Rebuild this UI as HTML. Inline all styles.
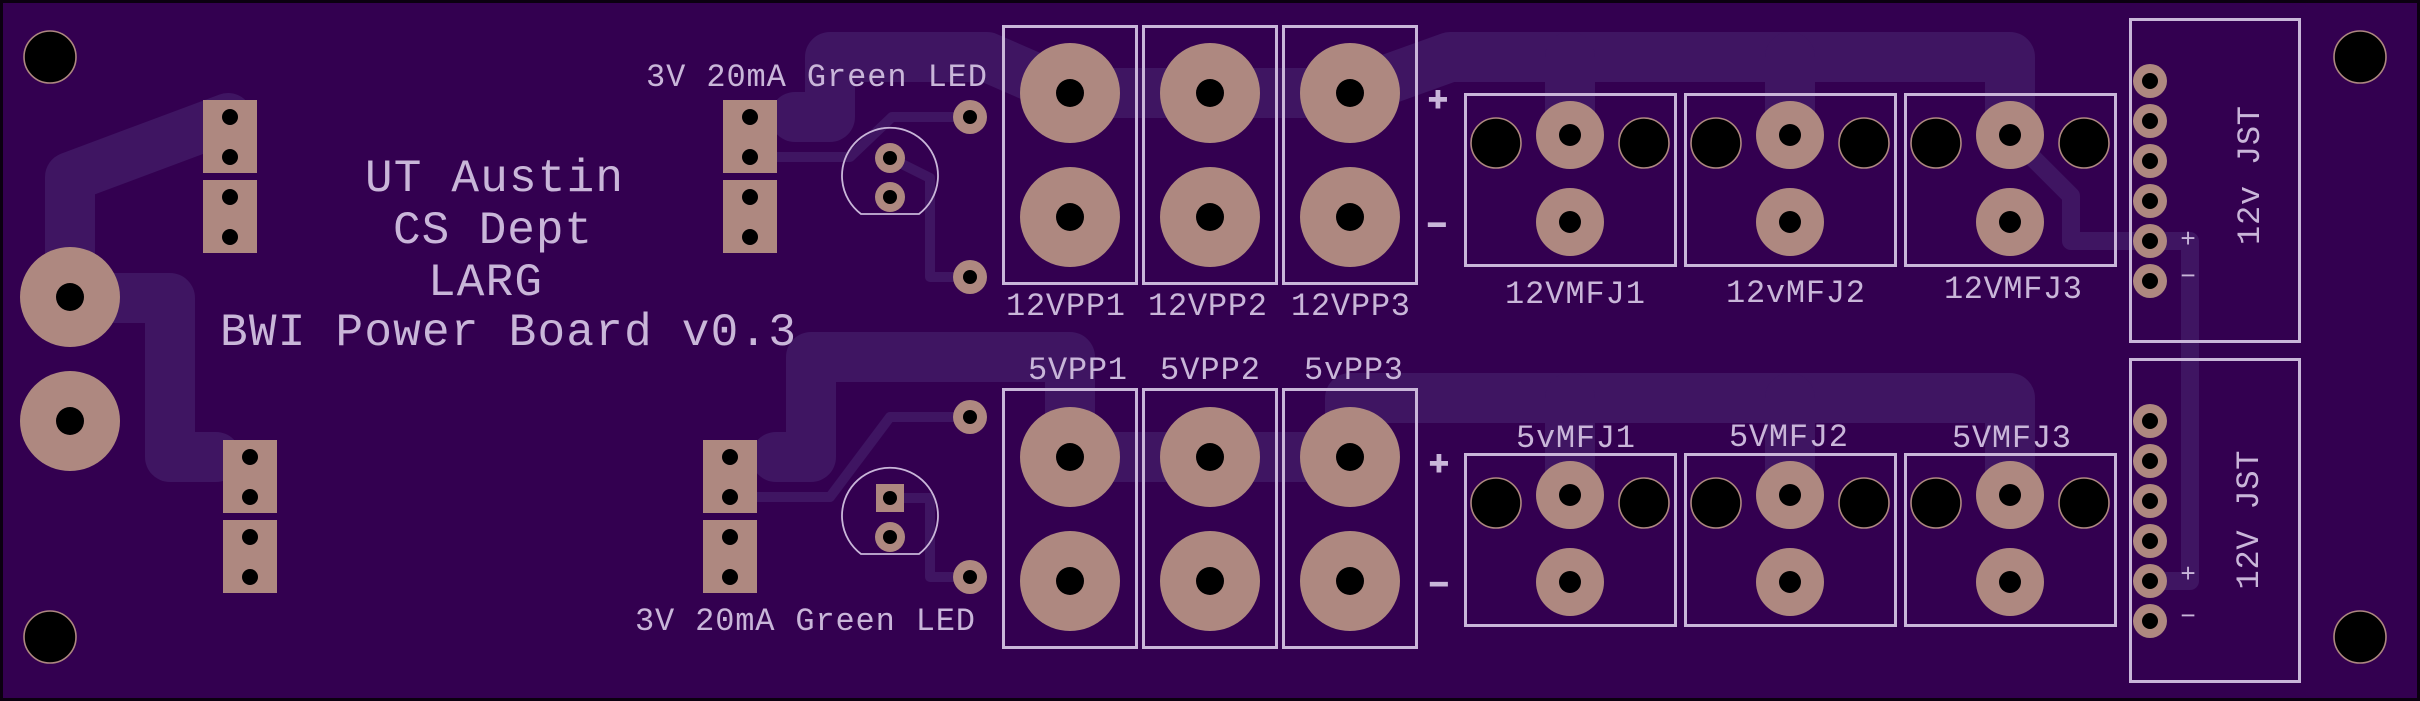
<!DOCTYPE html>
<html>
<head>
<meta charset="utf-8">
<style>
  html, body { margin: 0; padding: 0; background: #330050; overflow: hidden; }
  svg { display: block; }
  text { font-family: "Liberation Mono", "DejaVu Sans Mono", monospace; fill: #c9b6d9; }
</style>
</head>
<body>
<svg width="2420" height="701" viewBox="0 0 2420 701" xmlns="http://www.w3.org/2000/svg">
  <!-- board -->
  <rect x="0" y="0" width="2420" height="701" fill="#330050"/>

  <!-- traces -->
  <g fill="none" stroke="#3f1562" stroke-linejoin="round" stroke-linecap="round">
    <g stroke-width="50">
      <polyline points="228,118 70,177 70,297"/>
      <polyline points="70,298 170,298 170,457 216,457"/>
      <polyline points="795,117 830,117 830,57 987,57 1070,93 1350,93 1450,57 2010,57 2010,135"/>
      <polyline points="1570,57 1570,135"/>
      <polyline points="1790,57 1790,135"/>
      <polyline points="776,457 811,457 811,357 1070,357 1070,457 1350,457 1350,398 2010,398 2010,495"/>
      <polyline points="1570,398 1570,495"/>
      <polyline points="1790,398 1790,495"/>
    </g>
    <g stroke-width="10">
      <polyline points="757,157 850,157 892,117 970,117"/>
      <polyline points="890,158 930,178 930,277 970,277"/>
      <polyline points="757,497 830,497 890,417 970,417"/>
      <polyline points="890,498 930,498 930,577 970,577"/>
    </g>
    <polyline stroke-width="18" points="2010,135 2071,196 2071,241 2190,241 2190,581 2150,581"/>
  </g>

  <!-- silkscreen outlines -->
  <g fill="none" stroke="#c9b6d9" stroke-width="3">
    <!-- 12VPP boxes -->
    <rect x="1003.5" y="26.5" width="133" height="257"/>
    <rect x="1143.5" y="26.5" width="133" height="257"/>
    <rect x="1283.5" y="26.5" width="133" height="257"/>
    <!-- 5VPP boxes -->
    <rect x="1003.5" y="389.5" width="133" height="258"/>
    <rect x="1143.5" y="389.5" width="133" height="258"/>
    <rect x="1283.5" y="389.5" width="133" height="258"/>
    <!-- MFJ boxes -->
    <rect x="1465.5" y="94.5" width="210" height="171"/>
    <rect x="1685.5" y="94.5" width="210" height="171"/>
    <rect x="1905.5" y="94.5" width="210" height="171"/>
    <rect x="1465.5" y="454.5" width="210" height="171"/>
    <rect x="1685.5" y="454.5" width="210" height="171"/>
    <rect x="1905.5" y="454.5" width="210" height="171"/>
    <!-- JST boxes -->
    <rect x="2130.5" y="19.5" width="169" height="322"/>
    <rect x="2130.5" y="359.5" width="169" height="322"/>
  </g>
  <g fill="none" stroke="#c9b6d9" stroke-width="1.8">
    <path d="M 861,214 A 48 48 0 1 1 919,214 Z"/>
    <path d="M 861,554 A 48 48 0 1 1 919,554 Z"/>
  </g>

  <!-- silkscreen text -->
  <g font-size="46">
    <text x="365" y="191" textLength="258" lengthAdjust="spacing">UT Austin</text>
    <text x="393" y="243" textLength="199" lengthAdjust="spacing">CS Dept</text>
    <text x="428" y="295" textLength="114" lengthAdjust="spacing">LARG</text>
    <text x="220" y="345" textLength="576" lengthAdjust="spacing">BWI Power Board v0.3</text>
  </g>
  <g font-size="32">
    <text x="646" y="86" textLength="341" lengthAdjust="spacing">3V 20mA Green LED</text>
    <text x="635" y="630" textLength="340" lengthAdjust="spacing">3V 20mA Green LED</text>

    <text x="1006" y="315" textLength="119" lengthAdjust="spacing">12VPP1</text>
    <text x="1148" y="315" textLength="119" lengthAdjust="spacing">12VPP2</text>
    <text x="1291" y="315" textLength="119" lengthAdjust="spacing">12VPP3</text>

    <text x="1028" y="379" textLength="99" lengthAdjust="spacing">5VPP1</text>
    <text x="1160" y="379" textLength="100" lengthAdjust="spacing">5VPP2</text>
    <text x="1304" y="379" textLength="99" lengthAdjust="spacing">5vPP3</text>

    <text x="1505" y="303" textLength="140" lengthAdjust="spacing">12VMFJ1</text>
    <text x="1726" y="302" textLength="139" lengthAdjust="spacing">12vMFJ2</text>
    <text x="1944" y="298" textLength="138" lengthAdjust="spacing">12VMFJ3</text>

    <text x="1516" y="447" textLength="119" lengthAdjust="spacing">5vMFJ1</text>
    <text x="1729" y="446" textLength="119" lengthAdjust="spacing">5VMFJ2</text>
    <text x="1952" y="447" textLength="119" lengthAdjust="spacing">5VMFJ3</text>

    <text transform="translate(2259,175.5) rotate(-90)" text-anchor="middle" textLength="139" lengthAdjust="spacing">12v JST</text>
    <text transform="translate(2258,520) rotate(-90)" text-anchor="middle" textLength="139" lengthAdjust="spacing">12V JST</text>
  </g>
  <g font-size="34" font-weight="bold" text-anchor="middle" stroke="#c9b6d9" stroke-width="1">
    <text x="1438" y="110.5">+</text>
    <text x="1437" y="236">&#8722;</text>
    <text x="1439" y="474.5">+</text>
    <text x="1439" y="595.5">&#8722;</text>
  </g>
  <g font-size="26" text-anchor="middle">
    <text x="2188" y="247">+</text>
    <text x="2188" y="284">&#8722;</text>
    <text x="2188" y="582">+</text>
    <text x="2188" y="624">&#8722;</text>
  </g>

  <!-- copper pads -->
  <g fill="#ae8880">
    <!-- header blocks -->
    <rect x="203" y="100" width="54" height="73"/>
    <rect x="203" y="180" width="54" height="73"/>
    <rect x="223" y="440" width="54" height="73"/>
    <rect x="223" y="520" width="54" height="73"/>
    <rect x="723" y="100" width="54" height="73"/>
    <rect x="723" y="180" width="54" height="73"/>
    <rect x="703" y="440" width="54" height="73"/>
    <rect x="703" y="520" width="54" height="73"/>
    <!-- DC jack -->
    <circle cx="70" cy="297" r="50"/>
    <circle cx="70" cy="421" r="50"/>
    <!-- power posts -->
    <circle cx="1070" cy="93" r="50"/><circle cx="1070" cy="217" r="50"/>
    <circle cx="1210" cy="93" r="50"/><circle cx="1210" cy="217" r="50"/>
    <circle cx="1350" cy="93" r="50"/><circle cx="1350" cy="217" r="50"/>
    <circle cx="1070" cy="457" r="50"/><circle cx="1070" cy="581" r="50"/>
    <circle cx="1210" cy="457" r="50"/><circle cx="1210" cy="581" r="50"/>
    <circle cx="1350" cy="457" r="50"/><circle cx="1350" cy="581" r="50"/>
    <!-- resistor pads -->
    <circle cx="970" cy="117" r="17"/><circle cx="970" cy="277" r="17"/>
    <circle cx="970" cy="417" r="17"/><circle cx="970" cy="577" r="17"/>
    <!-- LED pads -->
    <circle cx="890" cy="158" r="15"/><circle cx="890" cy="197" r="15"/>
    <rect x="876" y="484" width="28" height="28"/><circle cx="890" cy="537" r="15"/>
    <!-- MFJ pads -->
    <circle cx="1570" cy="135" r="34"/><circle cx="1570" cy="222" r="34"/>
    <circle cx="1790" cy="135" r="34"/><circle cx="1790" cy="222" r="34"/>
    <circle cx="2010" cy="135" r="34"/><circle cx="2010" cy="222" r="34"/>
    <circle cx="1570" cy="495" r="34"/><circle cx="1570" cy="582" r="34"/>
    <circle cx="1790" cy="495" r="34"/><circle cx="1790" cy="582" r="34"/>
    <circle cx="2010" cy="495" r="34"/><circle cx="2010" cy="582" r="34"/>
    <!-- JST pads -->
    <circle cx="2150" cy="81" r="17"/><circle cx="2150" cy="121" r="17"/>
    <circle cx="2150" cy="161" r="17"/><circle cx="2150" cy="201" r="17"/>
    <circle cx="2150" cy="241" r="17"/><circle cx="2150" cy="281" r="17"/>
    <circle cx="2150" cy="421" r="17"/><circle cx="2150" cy="461" r="17"/>
    <circle cx="2150" cy="501" r="17"/><circle cx="2150" cy="541" r="17"/>
    <circle cx="2150" cy="581" r="17"/><circle cx="2150" cy="621" r="17"/>
  </g>

  <!-- drill holes -->
  <g fill="#000">
    <!-- headers -->
    <circle cx="230" cy="117" r="8"/><circle cx="230" cy="157" r="8"/>
    <circle cx="230" cy="197" r="8"/><circle cx="230" cy="237" r="8"/>
    <circle cx="250" cy="457" r="8"/><circle cx="250" cy="497" r="8"/>
    <circle cx="250" cy="537" r="8"/><circle cx="250" cy="577" r="8"/>
    <circle cx="750" cy="117" r="8"/><circle cx="750" cy="157" r="8"/>
    <circle cx="750" cy="197" r="8"/><circle cx="750" cy="237" r="8"/>
    <circle cx="730" cy="457" r="8"/><circle cx="730" cy="497" r="8"/>
    <circle cx="730" cy="537" r="8"/><circle cx="730" cy="577" r="8"/>
    <!-- DC jack -->
    <circle cx="70" cy="297" r="14"/><circle cx="70" cy="421" r="14"/>
    <!-- posts -->
    <circle cx="1070" cy="93" r="14"/><circle cx="1070" cy="217" r="14"/>
    <circle cx="1210" cy="93" r="14"/><circle cx="1210" cy="217" r="14"/>
    <circle cx="1350" cy="93" r="14"/><circle cx="1350" cy="217" r="14"/>
    <circle cx="1070" cy="457" r="14"/><circle cx="1070" cy="581" r="14"/>
    <circle cx="1210" cy="457" r="14"/><circle cx="1210" cy="581" r="14"/>
    <circle cx="1350" cy="457" r="14"/><circle cx="1350" cy="581" r="14"/>
    <!-- resistor -->
    <circle cx="970" cy="117" r="7"/><circle cx="970" cy="277" r="7"/>
    <circle cx="970" cy="417" r="7"/><circle cx="970" cy="577" r="7"/>
    <!-- LED -->
    <circle cx="890" cy="158" r="7"/><circle cx="890" cy="197" r="7"/>
    <circle cx="890" cy="498" r="7"/><circle cx="890" cy="537" r="7"/>
    <!-- MFJ pad holes -->
    <circle cx="1570" cy="135" r="11"/><circle cx="1570" cy="222" r="11"/>
    <circle cx="1790" cy="135" r="11"/><circle cx="1790" cy="222" r="11"/>
    <circle cx="2010" cy="135" r="11"/><circle cx="2010" cy="222" r="11"/>
    <circle cx="1570" cy="495" r="11"/><circle cx="1570" cy="582" r="11"/>
    <circle cx="1790" cy="495" r="11"/><circle cx="1790" cy="582" r="11"/>
    <circle cx="2010" cy="495" r="11"/><circle cx="2010" cy="582" r="11"/>
    <!-- JST -->
    <circle cx="2150" cy="81" r="8"/><circle cx="2150" cy="121" r="8"/>
    <circle cx="2150" cy="161" r="8"/><circle cx="2150" cy="201" r="8"/>
    <circle cx="2150" cy="241" r="8"/><circle cx="2150" cy="281" r="8"/>
    <circle cx="2150" cy="421" r="8"/><circle cx="2150" cy="461" r="8"/>
    <circle cx="2150" cy="501" r="8"/><circle cx="2150" cy="541" r="8"/>
    <circle cx="2150" cy="581" r="8"/><circle cx="2150" cy="621" r="8"/>
  </g>
  <!-- non-plated holes with thin ring -->
  <g fill="#000" stroke="#ae8880" stroke-width="1.6">
    <circle cx="50" cy="57" r="26"/>
    <circle cx="50" cy="637" r="26"/>
    <circle cx="2360" cy="57" r="26"/>
    <circle cx="2360" cy="637" r="26"/>
    <circle cx="1496" cy="143" r="25"/><circle cx="1644" cy="143" r="25"/>
    <circle cx="1716" cy="143" r="25"/><circle cx="1864" cy="143" r="25"/>
    <circle cx="1936" cy="143" r="25"/><circle cx="2084" cy="143" r="25"/>
    <circle cx="1496" cy="503" r="25"/><circle cx="1644" cy="503" r="25"/>
    <circle cx="1716" cy="503" r="25"/><circle cx="1864" cy="503" r="25"/>
    <circle cx="1936" cy="503" r="25"/><circle cx="2084" cy="503" r="25"/>
  </g>

  <!-- board edge -->
  <rect x="1.5" y="1.5" width="2417" height="698" fill="none" stroke="#0b0010" stroke-width="3"/>
</svg>
</body>
</html>
